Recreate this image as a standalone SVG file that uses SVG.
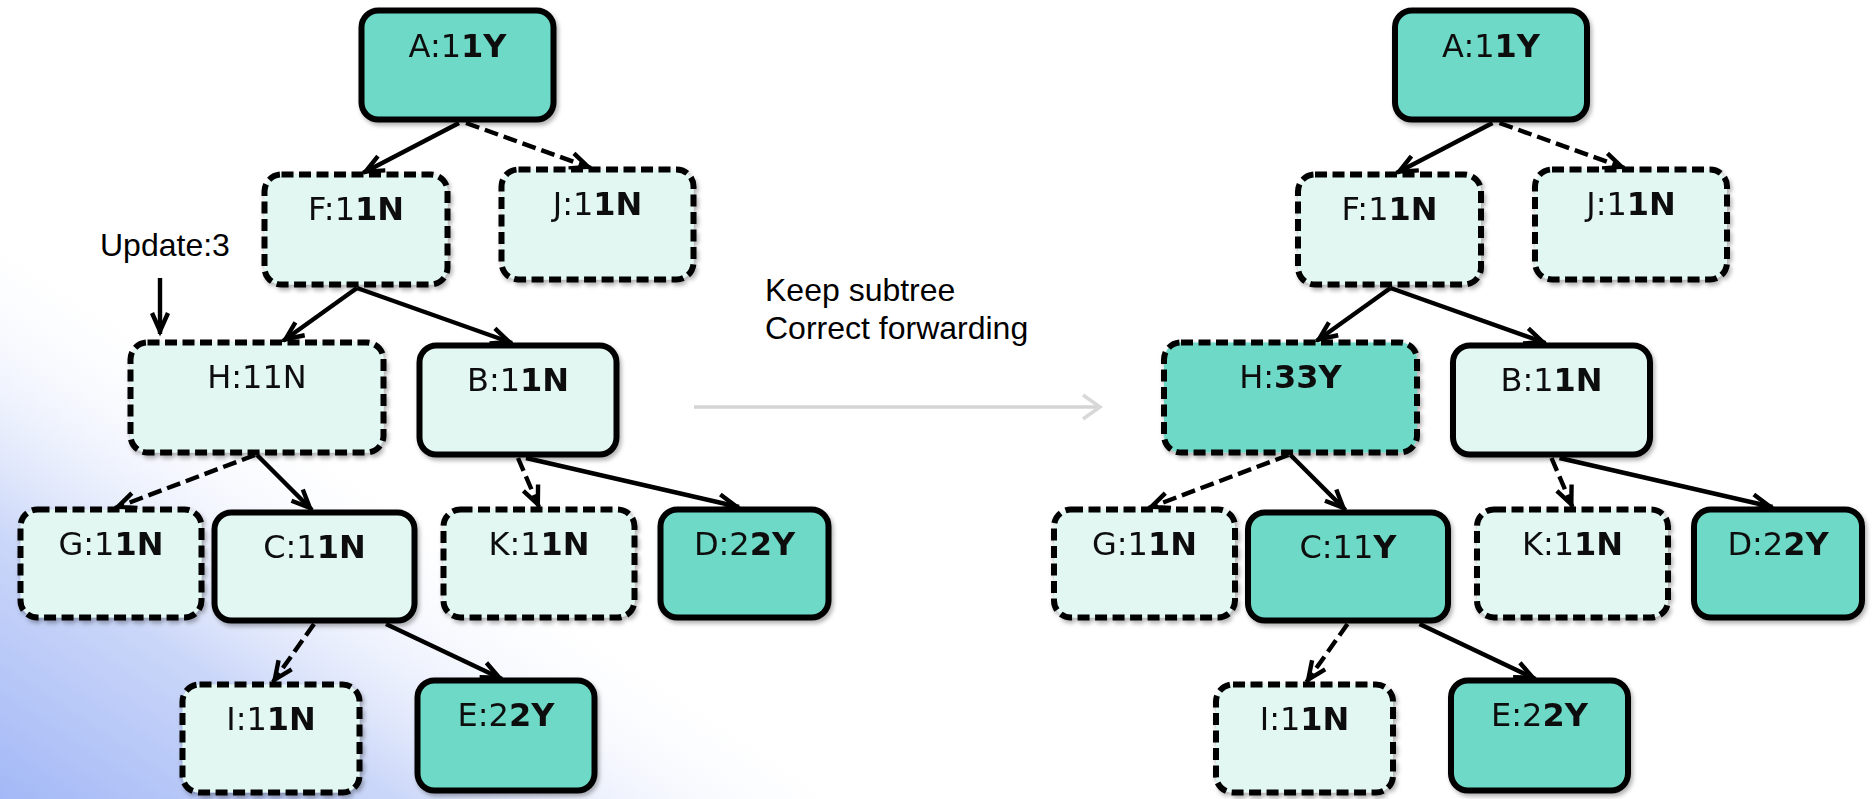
<svg xmlns="http://www.w3.org/2000/svg" width="1873" height="799" viewBox="0 0 1873 799">
<defs>
<linearGradient id="bg" gradientUnits="userSpaceOnUse" x1="0" y1="799" x2="270" y2="390">
<stop offset="0" stop-color="#a3b8f6"/>
<stop offset="0.45" stop-color="#cbd7f9"/>
<stop offset="1" stop-color="#ffffff" stop-opacity="0"/>
</linearGradient>
<filter id="sh" x="-10%" y="-10%" width="130%" height="130%">
<feDropShadow dx="2" dy="3" stdDeviation="2" flood-color="#000" flood-opacity="0.3"/>
</filter>
<marker id="ah" markerUnits="userSpaceOnUse" viewBox="-24 -12 32 24" markerWidth="32" markerHeight="24" refX="3" refY="0" orient="auto">
<path d="M-18,-8 L0,0 L-18,8" fill="none" stroke="#000" stroke-width="4.4" stroke-dasharray="none"/>
</marker>
</defs>
<style>
.n rect{stroke:#000;stroke-width:6}
.teal rect{fill:#6dd9c6}
.light rect{fill:#e2f7f2}
.dash rect{stroke-dasharray:12 5.5}
.n text{font-family:"DejaVu Sans",sans-serif;font-size:32px;fill:#111;text-anchor:middle}
.b{font-weight:bold}
.e{stroke:#000;stroke-width:4.4;fill:none;marker-end:url(#ah)}
.ed{stroke-dasharray:14 6}
.lbl{font-family:"Liberation Sans",Arial,sans-serif;font-size:32px;fill:#000}
</style>
<rect width="1873" height="799" fill="#ffffff"/>
<rect width="1873" height="799" fill="url(#bg)"/>

<g id="connectors">
<g id="left-edges">
<line class="e" x1="459" y1="123" x2="363" y2="173"/>
<line class="e ed" x1="466" y1="123" x2="591" y2="168"/>
<line class="e" x1="357" y1="288" x2="283" y2="341"/>
<line class="e" x1="357" y1="288" x2="512" y2="343"/>
<line class="e ed" x1="255" y1="455" x2="115" y2="508"/>
<line class="e" x1="257" y1="455" x2="312" y2="510"/>
<line class="e ed" x1="518" y1="458" x2="539" y2="507"/>
<line class="e" x1="526" y1="458" x2="739" y2="507"/>
<line class="e ed" x1="314" y1="624" x2="273" y2="682"/>
<line class="e" x1="386" y1="624" x2="502" y2="679"/>
</g>
<g id="right-edges" transform="translate(1033.5,0)">
<line class="e" x1="459" y1="123" x2="363" y2="173"/>
<line class="e ed" x1="466" y1="123" x2="591" y2="168"/>
<line class="e" x1="357" y1="288" x2="283" y2="341"/>
<line class="e" x1="357" y1="288" x2="512" y2="343"/>
<line class="e ed" x1="255" y1="455" x2="115" y2="508"/>
<line class="e" x1="257" y1="455" x2="312" y2="510"/>
<line class="e ed" x1="518" y1="458" x2="539" y2="507"/>
<line class="e" x1="526" y1="458" x2="739" y2="507"/>
<line class="e ed" x1="314" y1="624" x2="273" y2="682"/>
<line class="e" x1="386" y1="624" x2="502" y2="679"/>
</g>
<g id="update-arrow">
<line class="e" x1="160" y1="278" x2="160" y2="334"/>
</g>
<g id="transition-arrow">
<line x1="694" y1="407" x2="1099" y2="407" stroke="#d4d4d4" stroke-width="3.5"/>
<path d="M1083,395 L1100,407 L1083,419" fill="none" stroke="#d8d8d8" stroke-width="3.5"/>
</g>
</g>

<g id="left-tree" filter="url(#sh)">
<g id="L-A" class="n teal"><rect x="361.5" y="10.5" width="192" height="109" rx="17"/><text x="457.5" y="57">A:1<tspan class="b">1Y</tspan></text></g>
<g id="L-F" class="n light dash"><rect x="264.5" y="174.5" width="183" height="110" rx="17"/><text x="356" y="220">F:1<tspan class="b">1N</tspan></text></g>
<g id="L-J" class="n light dash"><rect x="501.5" y="169.5" width="192" height="110" rx="17"/><text x="597.5" y="215">J:1<tspan class="b">1N</tspan></text></g>
<g id="L-H" class="n light dash"><rect x="130.5" y="342.5" width="253" height="110" rx="17"/><text x="257" y="388">H:11N</text></g>
<g id="L-B" class="n light"><rect x="419.5" y="345.5" width="197" height="109" rx="17"/><text x="518" y="391">B:1<tspan class="b">1N</tspan></text></g>
<g id="L-G" class="n light dash"><rect x="20.5" y="509.5" width="181" height="108" rx="17"/><text x="111" y="555">G:1<tspan class="b">1N</tspan></text></g>
<g id="L-C" class="n light"><rect x="214.5" y="512.5" width="200" height="108" rx="17"/><text x="314.5" y="558">C:1<tspan class="b">1N</tspan></text></g>
<g id="L-K" class="n light dash"><rect x="443.5" y="509.5" width="191" height="108" rx="17"/><text x="539" y="555">K:1<tspan class="b">1N</tspan></text></g>
<g id="L-D" class="n teal"><rect x="660.5" y="509.5" width="168" height="108" rx="17"/><text x="744.5" y="555">D:2<tspan class="b">2Y</tspan></text></g>
<g id="L-I" class="n light dash"><rect x="182.5" y="684.5" width="177" height="108" rx="17"/><text x="271" y="730">I:1<tspan class="b">1N</tspan></text></g>
<g id="L-E" class="n teal"><rect x="417.5" y="680.5" width="177" height="110" rx="17"/><text x="506" y="726">E:2<tspan class="b">2Y</tspan></text></g>
</g>

<g id="right-tree" filter="url(#sh)" transform="translate(1033.5,0)">
<g id="R-A" class="n teal"><rect x="361.5" y="10.5" width="192" height="109" rx="17"/><text x="457.5" y="57">A:1<tspan class="b">1Y</tspan></text></g>
<g id="R-F" class="n light dash"><rect x="264.5" y="174.5" width="183" height="110" rx="17"/><text x="356" y="220">F:1<tspan class="b">1N</tspan></text></g>
<g id="R-J" class="n light dash"><rect x="501.5" y="169.5" width="192" height="110" rx="17"/><text x="597.5" y="215">J:1<tspan class="b">1N</tspan></text></g>
<g id="R-H" class="n teal dash"><rect x="130.5" y="342.5" width="253" height="110" rx="17"/><text x="257" y="388">H:<tspan class="b">33Y</tspan></text></g>
<g id="R-B" class="n light"><rect x="419.5" y="345.5" width="197" height="109" rx="17"/><text x="518" y="391">B:1<tspan class="b">1N</tspan></text></g>
<g id="R-G" class="n light dash"><rect x="20.5" y="509.5" width="181" height="108" rx="17"/><text x="111" y="555">G:1<tspan class="b">1N</tspan></text></g>
<g id="R-C" class="n teal"><rect x="214.5" y="512.5" width="200" height="108" rx="17"/><text x="314.5" y="558">C:11<tspan class="b">Y</tspan></text></g>
<g id="R-K" class="n light dash"><rect x="443.5" y="509.5" width="191" height="108" rx="17"/><text x="539" y="555">K:1<tspan class="b">1N</tspan></text></g>
<g id="R-D" class="n teal"><rect x="660.5" y="509.5" width="168" height="108" rx="17"/><text x="744.5" y="555">D:2<tspan class="b">2Y</tspan></text></g>
<g id="R-I" class="n light dash"><rect x="182.5" y="684.5" width="177" height="108" rx="17"/><text x="271" y="730">I:1<tspan class="b">1N</tspan></text></g>
<g id="R-E" class="n teal"><rect x="417.5" y="680.5" width="177" height="110" rx="17"/><text x="506" y="726">E:2<tspan class="b">2Y</tspan></text></g>
</g>

<g id="labels">
<text class="lbl" x="100" y="256">Update:3</text>
<text class="lbl" x="765" y="301">Keep subtree</text>
<text class="lbl" x="765" y="339">Correct forwarding</text>
</g>
</svg>
